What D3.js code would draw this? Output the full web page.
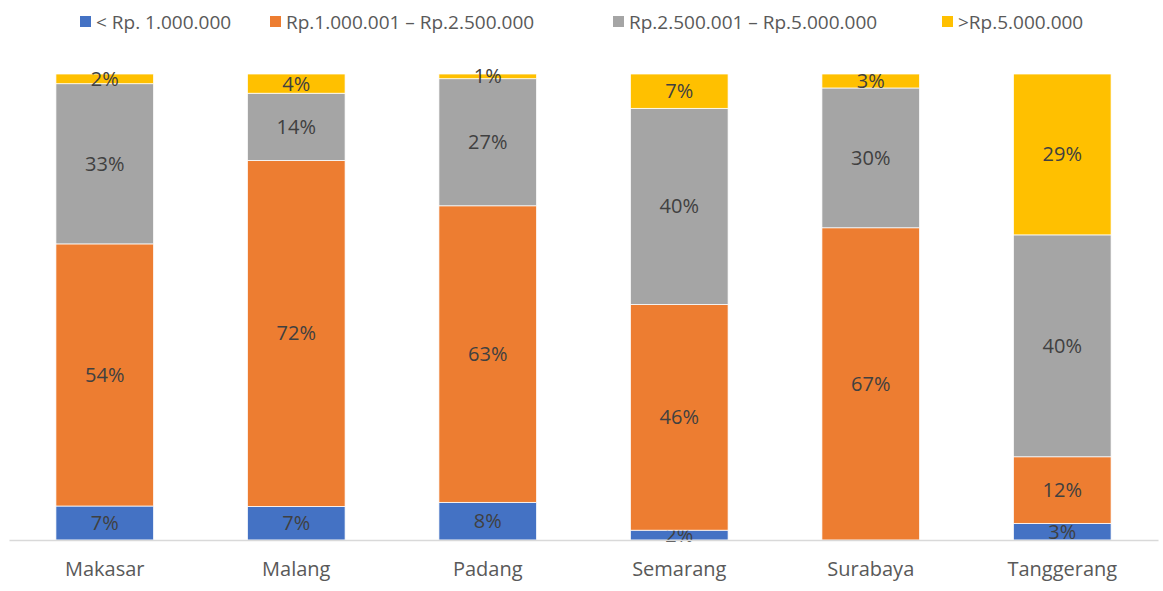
<!DOCTYPE html>
<html>
<head>
<meta charset="utf-8">
<script src="https://cdn.jsdelivr.net/npm/d3@7"></script>
<style>
  body { margin: 0; background: #fff; }
  text { font-family: "Open Sans", sans-serif; }
</style>
</head>
<body>
<svg id="chart" width="1163" height="591"></svg>
<script>
// income groups per city, percent as printed on the labels
const cities = ['Makasar', 'Malang', 'Padang', 'Semarang', 'Surabaya', 'Tanggerang'];
const groups = ['< Rp. 1.000.000', 'Rp.1.000.001 – Rp.2.500.000', 'Rp.2.500.001 – Rp.5.000.000', '>Rp.5.000.000'];
const below1m = [7, 7, 8, 2, 0, 3];
const from1to2_5m = [54, 72, 63, 46, 67, 12];
const from2_5to5m = [33, 14, 27, 40, 30, 40];
const above5m = [2, 4, 1, 7, 3, 29];
const colors = ['#4472c4', '#ed7d31', '#a5a5a5', '#ffc000'];

const series = [below1m, from1to2_5m, from2_5to5m, above5m];
const rows = cities.map((c, i) => {
    let r = {city: c};
    groups.forEach((g, j) => r[g] = series[j][i]);
    return r;
});

const svg = d3.select('#chart');
const margin = {top: 74, right: 5, bottom: 51, left: 9};
const width = 1163 - margin.left - margin.right,
      height = 591 - margin.top - margin.bottom;

const x = d3.scaleBand().domain(cities)
    .range([margin.left, margin.left + width])
    .paddingInner(0.49).paddingOuter(0.245);
const y = d3.scaleLinear().domain([0, 1]).range([margin.top + height, margin.top]);

const stacked = d3.stack().keys(groups).offset(d3.stackOffsetExpand)(rows);

const layer = svg.append('g').selectAll('g.series')
    .data(stacked)
    .enter().append('g')
        .attr('class', 'series')
        .attr('fill', (d, i) => colors[i]);

layer.selectAll('rect')
    .data(d => d)
    .enter().append('rect')
        .attr('x', d => x(d.data.city))
        .attr('width', x.bandwidth())
        .attr('y', d => y(d[1]))
        .attr('height', d => Math.max(0, y(d[0]) - y(d[1])))
        .attr('stroke', '#fff')
        .attr('stroke-width', 0.75);

// labels, skip empty segments
layer.selectAll('text')
    .data(d => d.map(p => ({p, key: d.key})).filter(o => o.p.data[o.key] > 0))
    .enter().append('text')
        .attr('x', o => x(o.p.data.city) + x.bandwidth() / 2)
        .attr('y', o => (y(o.p[0]) + y(o.p[1])) / 2)
        .attr('dy', '0.35em')
        .attr('text-anchor', 'middle')
        .attr('fill', '#404040')
        .attr('font-size', 20)
        .text(o => o.p.data[o.key] + '%');

// axis
const axis = svg.append('g')
    .attr('transform', `translate(0,${margin.top + height})`)
    .call(d3.axisBottom(x).tickSize(0).tickPadding(22));
axis.select('.domain').attr('stroke', '#d9d9d9').attr('stroke-width', 1.5);
axis.selectAll('text')
    .attr('font-size', 20)
    .attr('fill', '#595959')
    .style('font-family', '"Open Sans", sans-serif');

// legend
const legendX = [80, 270, 613, 942];
const legend = svg.append('g').selectAll('g')
    .data(groups)
    .enter().append('g')
        .attr('transform', (d, i) => `translate(${legendX[i]},16)`);
legend.append('rect')
    .attr('width', 11).attr('height', 11)
    .attr('fill', (d, i) => colors[i]);
legend.append('text')
    .attr('x', 16).attr('y', 6).attr('dy', '0.35em')
    .attr('font-size', 19)
    .attr('fill', '#595959')
    .text(d => d);
</script>
</body>
</html>
